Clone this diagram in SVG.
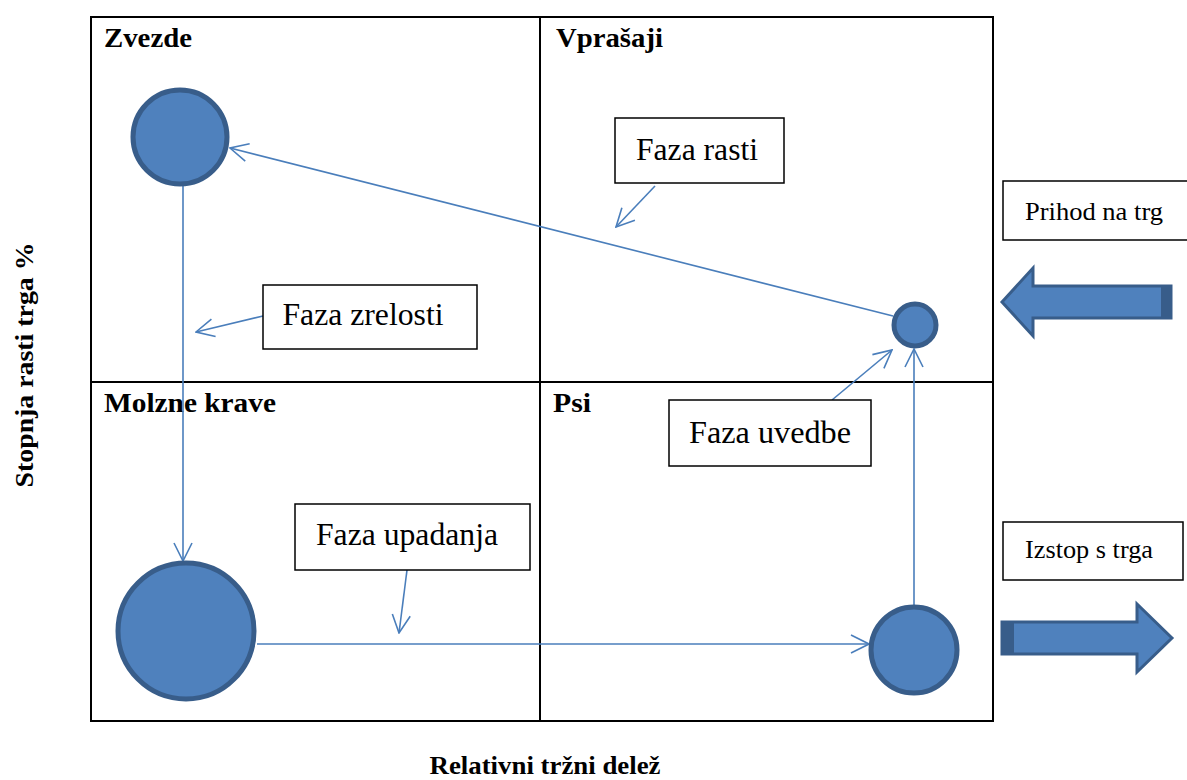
<svg xmlns="http://www.w3.org/2000/svg" width="1187" height="780" viewBox="0 0 1187 780">
<defs>
<style>
.q{font-family:"Liberation Serif","Times New Roman",serif;font-weight:bold;font-size:28px;fill:#000}
.ax{font-family:"Liberation Serif","Times New Roman",serif;font-weight:bold;font-size:26px;fill:#000;text-anchor:middle}
.bx{fill:#fff;stroke:#000;stroke-width:1.5}
.bt{font-family:"Liberation Serif","Times New Roman",serif;font-size:31px;fill:#000;text-anchor:middle}
.bs{font-family:"Liberation Serif","Times New Roman",serif;font-size:26px;fill:#000;text-anchor:middle}
.c{fill:#4F81BD;stroke:#385D8A;stroke-width:5}
.ln{stroke:#4A7EBB;stroke-width:1.6;fill:none}
</style>
<marker id="arr" viewBox="0 0 20 20" refX="19" refY="10" markerWidth="20" markerHeight="20" markerUnits="userSpaceOnUse" orient="auto">
<path d="M1,1 L19,10 L1,19" fill="none" stroke="#4A7EBB" stroke-width="1.6"/>
</marker>
</defs>
<rect width="1187" height="780" fill="#fff"/>
<g id="grid" fill="none" stroke="#000" stroke-width="2">
<rect x="91" y="17" width="902" height="704"/>
<line x1="540" y1="17" x2="540" y2="721"/>
<line x1="91" y1="382" x2="993" y2="382"/>
</g>
<g id="quadrant-labels">
<text class="q" x="104" y="47" textLength="88" lengthAdjust="spacingAndGlyphs">Zvezde</text>
<text class="q" x="556" y="47" textLength="107" lengthAdjust="spacingAndGlyphs">Vprašaji</text>
<text class="q" x="104" y="412" textLength="172" lengthAdjust="spacingAndGlyphs">Molzne krave</text>
<text class="q" x="553" y="412" textLength="38" lengthAdjust="spacingAndGlyphs">Psi</text>
</g>
<g id="axis-labels">
<text class="ax" transform="translate(33,365) rotate(-90)" textLength="245" lengthAdjust="spacingAndGlyphs">Stopnja rasti trga %</text>
<text class="ax" x="545" y="774" textLength="231" lengthAdjust="spacingAndGlyphs">Relativni tržni delež</text>
</g>
<g id="connectors">
<line class="ln" x1="893" y1="316" x2="230" y2="148" marker-end="url(#arr)"/>
<line class="ln" x1="183" y1="186" x2="183" y2="561" marker-end="url(#arr)"/>
<line class="ln" x1="257" y1="644" x2="869" y2="644" marker-end="url(#arr)"/>
<line class="ln" x1="914" y1="606" x2="914" y2="349" marker-end="url(#arr)"/>
<line class="ln" x1="655" y1="186" x2="616" y2="227" marker-end="url(#arr)"/>
<line class="ln" x1="263" y1="316" x2="196" y2="332" marker-end="url(#arr)"/>
<line class="ln" x1="407" y1="570" x2="399" y2="633" marker-end="url(#arr)"/>
<line class="ln" x1="832" y1="400" x2="892" y2="350" marker-end="url(#arr)"/>
</g>
<g id="zvezde-circle"><circle class="c" cx="180" cy="137" r="47"/></g>
<g id="vprasaji-circle"><circle class="c" cx="915" cy="325" r="21"/></g>
<g id="molzne-circle"><circle class="c" cx="186" cy="631" r="68"/></g>
<g id="psi-circle"><circle class="c" cx="914" cy="650" r="43"/></g>
<g id="faza-rasti"><rect class="bx" x="615" y="118" width="169" height="65"/><text class="bt" x="697" y="160" textLength="122" lengthAdjust="spacingAndGlyphs">Faza rasti</text></g>
<g id="faza-zrelosti"><rect class="bx" x="263" y="285" width="214" height="64"/><text class="bt" x="363" y="325" textLength="161" lengthAdjust="spacingAndGlyphs">Faza zrelosti</text></g>
<g id="faza-upadanja"><rect class="bx" x="295" y="504" width="235" height="66"/><text class="bt" x="407" y="545" textLength="182" lengthAdjust="spacingAndGlyphs">Faza upadanja</text></g>
<g id="faza-uvedbe"><rect class="bx" x="669" y="400" width="202" height="66"/><text class="bt" x="770" y="443" textLength="162" lengthAdjust="spacingAndGlyphs">Faza uvedbe</text></g>
<g id="prihod"><rect class="bx" x="1003" y="181" width="190" height="59"/><text class="bs" x="1094" y="220" textLength="138" lengthAdjust="spacingAndGlyphs">Prihod na trg</text></g>
<g id="izstop"><rect class="bx" x="1003" y="522" width="180" height="58"/><text class="bs" x="1089" y="558" textLength="128" lengthAdjust="spacingAndGlyphs">Izstop s trga</text></g>
<g id="arrow-in">
<path d="M1002,302 L1033,268 L1033,286 L1171,286 L1171,318 L1033,318 L1033,336 Z" fill="#4F81BD" stroke="#385D8A" stroke-width="3"/>
<rect x="1161" y="286" width="10" height="32" fill="#385D8A"/>
</g>
<g id="arrow-out">
<path d="M1172,638 L1137,604 L1137,622 L1002,622 L1002,654 L1137,654 L1137,672 Z" fill="#4F81BD" stroke="#385D8A" stroke-width="3"/>
<rect x="1002" y="622" width="12" height="32" fill="#385D8A"/>
</g>
</svg>
